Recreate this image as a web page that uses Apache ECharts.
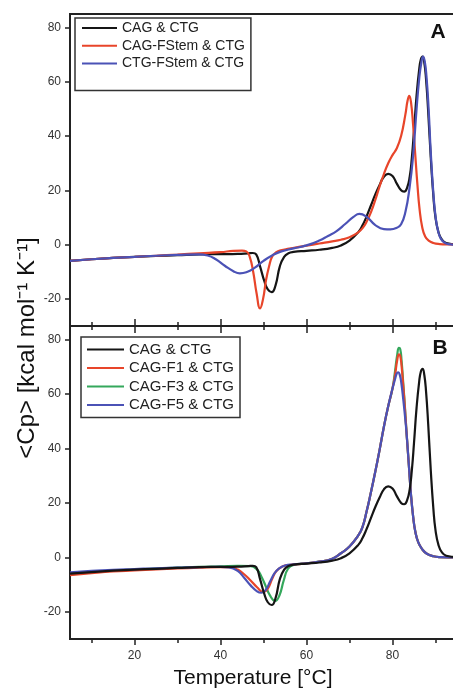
<!DOCTYPE html>
<html>
<head>
<meta charset="utf-8">
<script src="https://cdn.jsdelivr.net/npm/echarts@6/dist/echarts.min.js"></script>
<style>
  html, body { margin: 0; padding: 0; overflow: hidden; background: #fff; }
  #chart { width: 460px; height: 690px; }
</style>
</head>
<body>
<div id="chart"></div>
<script>
// Tick positions
const xMajor = [20, 40, 60, 80];
const xMinor = [10, 30, 50, 70, 90];
const yMajor = [-20, 0, 20, 40, 60, 80];
const yMinor = [-10, 10, 30, 50, 70];

// Series names
const namesA = ['CAG & CTG', 'CAG-FStem & CTG', 'CTG-FStem & CTG'];
const namesB = ['CAG & CTG', 'CAG-F1 & CTG', 'CAG-F3 & CTG', 'CAG-F5 & CTG'];

// CAG & CTG (reference duplex, both panels)
const tBlack = [5,10,15,20,25,30,35,40,44,46.5,47.5,48.3,49.2,50.2,51,51.9,52.8,53.8,54.8,55.8,57,60,63,66,68,70,72,73,74,75,76,77,78,79,80,81,82,82.7,83.4,84,84.5,85,85.6,86.2,86.6,87,87.4,87.8,88.3,88.9,89.5,90,90.7,91.5,92.5,95];
const cpBlack = [-6.0,-5.4,-4.9,-4.5,-4.2,-3.9,-3.6,-3.5,-3.4,-3.2,-3.1,-3.6,-8,-13.5,-16.5,-17.5,-15,-8,-4.5,-3.2,-2.7,-2.3,-1.9,-1.2,-0.3,1.5,4.5,7,10.5,14.5,18.5,22,25,26.1,25.3,22.5,20,19.5,21,25,32,42,55,64.5,68.3,69.3,67,61,49,32,18,10,4.5,1.8,0.6,0.1];

// Panel A: CAG-FStem & CTG
const tRedA = [5,10,15,20,25,30,35,40,43,45,46,46.8,47.6,48.4,49.2,49.9,50.6,51.3,52,53,54,56,58,60,63,66,68,70,72,73,74,75,76,77,78,79,80,81,82,83,83.5,83.9,84.3,84.8,85.3,85.8,86.3,86.9,87.6,88.5,89.5,91,93,95];
const cpRedA = [-6.0,-5.4,-4.9,-4.5,-4.1,-3.7,-3.2,-2.8,-2.3,-2.2,-2.5,-4.5,-10,-18,-23.5,-20,-13,-8,-4.5,-2.8,-2.1,-1.5,-0.9,-0.4,0.4,1.2,1.8,2.7,4.5,6,8.5,12,16.5,21.5,26,30,33,35.5,40,48,53,54.8,52.5,44,33,22,13,6.5,3,1.4,0.6,0.2,0.05,0];

// Panel A: CTG-FStem & CTG
const tBlueA = [5,10,15,20,25,30,35,37,39,41,43,44.5,46,48,50,52,54,57,60,63,65,67,69,71,72.3,74,76,78,79.5,81,82,83,84,84.8,85.6,86.2,86.7,87.1,87.5,87.9,88.4,88.9,89.5,90,90.6,91.2,92,93,95];
const cpBlueA = [-6.0,-5.4,-4.9,-4.5,-4.1,-3.8,-3.6,-4.0,-5.5,-7.8,-9.8,-10.6,-10.2,-8.5,-6.0,-4.0,-2.6,-1.4,-0.3,1.5,3.2,5.0,7.6,10.3,11.3,10.2,7.2,5.7,5.6,6.2,7.5,12,21.4,33,50,61,67,69.3,67.5,62,50,34,19,10.5,5,2.3,0.8,0.2,0];

// Panel B: CAG-F1 & CTG
const tRedB = [5,10,15,20,25,30,35,40,42.5,44,45.5,47,48.5,50,51,52,53,54.5,56,58,60,63,66,68,70,72,73,74,75,76,77,78,79,80,80.6,81.1,81.5,81.8,82.1,82.5,82.9,83.3,83.8,84.3,84.8,85.3,86,87,88,89.5,91,95];
const cpRedB = [-6.5,-5.8,-5.2,-4.8,-4.4,-4.1,-3.8,-3.6,-3.7,-4.5,-6.2,-8.5,-11,-12.8,-11.5,-8,-5,-3.3,-2.8,-2.5,-2.2,-1.6,-0.5,1.5,4.0,8,11,17,24,31.5,39.5,48,55.5,62,67,72.5,74.6,74,70.5,63,54.5,45,34,23,15,9.5,5.5,2.8,1.3,0.4,0.1,0];

// Panel B: CAG-F3 & CTG
const tGreenB = [5,10,15,20,25,30,35,40,44,47,48.5,49.5,50.5,51.5,52.7,53.7,54.7,55.7,57,60,63,66,68,70,72,73,74,75,76,77,78,79,80,80.6,81.1,81.5,81.8,82.1,82.5,82.9,83.3,83.8,84.3,84.8,85.3,86,87,88,89.5,91,95];
const cpGreenB = [-6.0,-5.4,-4.9,-4.5,-4.1,-3.8,-3.5,-3.3,-3.1,-3.2,-4.5,-7,-10.5,-14,-16,-14,-8.5,-4.2,-2.8,-2.2,-1.6,-0.5,1.5,4.0,8,11,17,24,31.5,39.5,48,55.5,62,68.5,74.5,77,76.5,72.5,64,55,45,34,23,15,9.5,5.5,2.8,1.3,0.4,0.1,0];

// Panel B: CAG-F5 & CTG
const tBlueB = [5,10,15,20,25,30,35,40,42,44,45.5,47,48.5,49.5,50.5,51.5,52.5,53.5,55,57,60,63,66,68,70,72,73,74,75,76,77,78,79,80,80.6,81,81.3,81.7,82.1,82.5,82.9,83.3,83.8,84.3,84.8,85.3,86,87,88,89.5,91,95];
const cpBlueB = [-5.5,-5.0,-4.6,-4.3,-4.0,-3.8,-3.6,-3.5,-3.7,-5.0,-7.5,-10.3,-12.5,-13,-12,-9,-6,-4.2,-3.0,-2.6,-2.2,-1.6,-0.5,1.5,4.0,8,11,17,24,31.5,39.5,48,55.5,62,65.5,67.6,68,67,63.5,58,52,45,34,23,15,9.5,5.5,2.8,1.3,0.4,0.1,0];

const FONT = '"Liberation Sans", Arial, Helvetica, sans-serif';
const AXIS_COLOR = '#222';
const COLORS = { black: '#151515', red: '#e8452a', blue: '#4b52b6', green: '#35a85c' };

const pairs = (t, v) => t.map((x, i) => [x, v[i]]);

function xAxisDef(grid, position, ticks, len, inside, labels) {
  return {
    type: 'value', gridIndex: grid, position: position, min: 5, max: 95,
    axisLine: { show: false, onZero: false },
    splitLine: { show: false },
    axisTick: { show: true, customValues: ticks, inside: inside, length: len,
      lineStyle: { color: AXIS_COLOR, width: 1.5 } },
    axisLabel: labels ? { show: true, customValues: ticks, margin: 11, fontSize: 12,
      color: '#333', fontFamily: FONT } : { show: false }
  };
}
function yAxisDef(grid, ticks, len, labels) {
  return {
    type: 'value', gridIndex: grid, min: -30, max: 85,
    axisLine: { show: false, onZero: false },
    splitLine: { show: false },
    axisTick: { show: true, customValues: ticks, inside: false, length: len,
      lineStyle: { color: AXIS_COLOR, width: 1.5 } },
    axisLabel: labels ? { show: true, customValues: ticks, margin: 9, fontSize: 12,
      color: '#333', fontFamily: FONT } : { show: false }
  };
}

function line(name, data, color, xi, yi, z) {
  return {
    type: 'line', name: name, data: data, xAxisIndex: xi, yAxisIndex: yi,
    showSymbol: false, symbol: 'none', smooth: 0.5,
    lineStyle: { color: color, width: 2.2 }, itemStyle: { color: color },
    z: z || 2, animation: false
  };
}

const chart = echarts.init(document.getElementById('chart'), null, { renderer: 'canvas' });

chart.setOption({
  backgroundColor: '#fff',
  animation: false,
  grid: [
    { left: 70, top: 14, width: 387, height: 312, show: true, borderColor: AXIS_COLOR, borderWidth: 2, backgroundColor: 'transparent' },
    { left: 70, top: 326, width: 387, height: 313, show: true, borderColor: AXIS_COLOR, borderWidth: 2, backgroundColor: 'transparent' }
  ],
  xAxis: [
    xAxisDef(0, 'bottom', xMajor, 7, true, false),
    xAxisDef(0, 'bottom', xMinor, 4, true, false),
    xAxisDef(1, 'top', xMajor, 7, true, false),
    xAxisDef(1, 'top', xMinor, 4, true, false),
    xAxisDef(1, 'bottom', xMajor, 6, false, true),
    xAxisDef(1, 'bottom', xMinor, 4, false, false)
  ],
  yAxis: [
    yAxisDef(0, yMajor, 5, true),
    yAxisDef(0, yMinor, 3, false),
    yAxisDef(1, yMajor, 5, true),
    yAxisDef(1, yMinor, 3, false)
  ],
  legend: [
    {
      data: namesA, orient: 'vertical', left: 75, top: 18,
      padding: [3, 6, 20, 7], itemWidth: 35, itemHeight: 2, itemGap: 3.7,
      icon: 'rect',
      borderColor: '#333', borderWidth: 1.5, backgroundColor: '#fff',
      selectedMode: false,
      textStyle: { fontSize: 14, lineHeight: 14, color: '#222', fontFamily: FONT }
    },
    {
      data: namesB, orient: 'vertical', left: 81, top: 337,
      padding: [5, 6, 5, 6], itemWidth: 37, itemHeight: 2, itemGap: 3.5,
      icon: 'rect',
      borderColor: '#333', borderWidth: 1.5, backgroundColor: '#fff',
      selectedMode: false,
      textStyle: { fontSize: 15, lineHeight: 15, color: '#222', fontFamily: FONT }
    }
  ],
  series: [
    line(namesA[0], pairs(tBlack, cpBlack), COLORS.black, 0, 0, 2),
    line(namesA[1], pairs(tRedA, cpRedA), COLORS.red, 0, 0, 3),
    line(namesA[2], pairs(tBlueA, cpBlueA), COLORS.blue, 0, 0, 4),
    line(namesB[0], pairs(tBlack, cpBlack), COLORS.black, 4, 2, 5),
    line(namesB[2], pairs(tGreenB, cpGreenB), COLORS.green, 4, 2, 2),
    line(namesB[1], pairs(tRedB, cpRedB), COLORS.red, 4, 2, 3),
    line(namesB[3], pairs(tBlueB, cpBlueB), COLORS.blue, 4, 2, 4)
  ],
  graphic: [
    { type: 'text', x: 438, y: 32, z: 10,
      style: { text: 'A', fontSize: 21, fontWeight: 'bold', fontFamily: FONT, fill: '#111', align: 'center', verticalAlign: 'middle' } },
    { type: 'text', x: 440, y: 348, z: 10,
      style: { text: 'B', fontSize: 21, fontWeight: 'bold', fontFamily: FONT, fill: '#111', align: 'center', verticalAlign: 'middle' } },
    { type: 'text', x: 253, y: 678, z: 10,
      style: { text: 'Temperature [°C]', fontSize: 21, fontFamily: FONT, fill: '#111', align: 'center', verticalAlign: 'middle' } },
    { type: 'text', x: 27, y: 348, rotation: Math.PI / 2, z: 10,
      style: { text: '<Cp> [kcal mol\u207B\u00B9 K\u207B\u00B9]', fontSize: 24, fontFamily: FONT, fill: '#111', align: 'center', verticalAlign: 'middle' } }
  ]
});
</script>
</body>
</html>
